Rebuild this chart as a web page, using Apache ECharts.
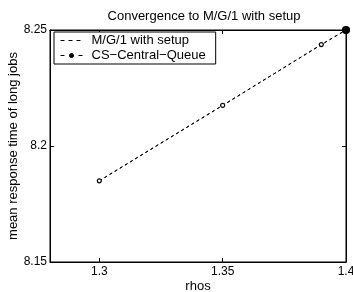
<!DOCTYPE html>
<html><head><meta charset="utf-8">
<script src="https://cdn.jsdelivr.net/npm/echarts@6/dist/echarts.min.js"></script>
<style>html,body{margin:0;padding:0;background:#fff}#c{width:353px;height:292px}</style>
</head><body><div id="c"></div>
<script>
var rhos = [1.3, 1.35, 1.39, 1.4];
var mg1Setup = [8.185, 8.2175, 8.2437, 8.25];
var csCentralQueue = [8.185, 8.2175, 8.2437, 8.25];
var xTicks = [1.3, 1.35, 1.4];
var yTicks = [8.15, 8.2, 8.25];

var font = 'Liberation Sans, Arial, Helvetica, sans-serif';
var fs = 13, tfs = 12;
var chart = echarts.init(document.getElementById('c'));
function pairs(v){ return rhos.map(function(x,i){ return [x, v[i]]; }); }
var csData = pairs(csCentralQueue).map(function(p,i){
  if (i === rhos.length-1) return {value:p, symbolSize:7, itemStyle:{color:'#000', borderColor:'#000'}};
  return {value:p};
});
chart.setOption({
  animation:false,
  title:{text:'Convergence to M/G/1 with setup', left:199, textAlign:'center', top:5,
    textStyle:{fontFamily:font, fontSize:fs, fontWeight:'normal', color:'#000'}},
  grid:{left:50, right:7, top:30, bottom:30, outerBoundsMode:'none', containLabel:false,
    show:true, borderColor:'#000', borderWidth:1, backgroundColor:'transparent'},
  legend:{orient:'vertical', left:54, top:32, itemWidth:22, itemHeight:5, itemGap:2,
    padding:[2,10,2,6], borderColor:'#000', borderWidth:1, backgroundColor:'#fff',
    textStyle:{fontFamily:font, fontSize:fs, color:'#000', padding:[0,0,0,4]},
    data:[{name:'M/G/1 with setup', itemStyle:{opacity:0}, lineStyle:{type:[4,4], color:'#000', width:1}},
          {name:'CS\u2212Central\u2212Queue', itemStyle:{color:'#000', borderColor:'#000', borderWidth:1},
           lineStyle:{type:[4,5], color:'#000', width:1}}]},
  xAxis:[{type:'value', min:1.28, max:1.4,
    name:'rhos', nameLocation:'middle', nameGap:18, nameMoveOverlap:false,
    nameTextStyle:{fontFamily:font, fontSize:fs, color:'#000'},
    axisLine:{lineStyle:{color:'#000', width:1}},
    axisTick:{inside:true, length:4, customValues:xTicks, lineStyle:{color:'#000'}},
    axisLabel:{customValues:xTicks, margin:4, fontFamily:font, fontSize:tfs, color:'#000',
      formatter:function(v){return String(+v.toFixed(2));}},
    splitLine:{show:false}},
   {type:'value', position:'top', min:1.28, max:1.4,
    axisLine:{lineStyle:{color:'#000', width:1}},
    axisTick:{inside:true, length:4, customValues:xTicks, lineStyle:{color:'#000'}},
    axisLabel:{show:false}, splitLine:{show:false}}],
  yAxis:[{type:'value', min:8.15, max:8.25, interval:0.05,
    name:'mean response time of long jobs', nameLocation:'middle', nameGap:30, nameMoveOverlap:false,
    nameTextStyle:{fontFamily:font, fontSize:fs, color:'#000'},
    axisLine:{lineStyle:{color:'#000', width:1}},
    axisTick:{inside:true, length:4, lineStyle:{color:'#000'}},
    axisLabel:{margin:3, fontFamily:font, fontSize:tfs, color:'#000',
      formatter:function(v){return String(+v.toFixed(2));}},
    splitLine:{show:false}},
   {type:'value', position:'right', min:8.15, max:8.25, interval:0.05,
    axisLine:{lineStyle:{color:'#000', width:1}},
    axisTick:{inside:true, length:4, lineStyle:{color:'#000'}},
    axisLabel:{show:false}, splitLine:{show:false}}],
  series:[
    {name:'M/G/1 with setup', type:'line', data:pairs(mg1Setup), showSymbol:false, symbol:'none',
      clip:false, lineStyle:{color:'#000', width:1, type:[3,3]}, itemStyle:{color:'#000'}},
    {name:'CS\u2212Central\u2212Queue', type:'line', data:csData, symbol:'circle', symbolSize:4,
      clip:false, lineStyle:{color:'#000', width:1, type:[3,3]},
      itemStyle:{color:'#fff', borderColor:'#000', borderWidth:1.2}}
  ]
});
</script></body></html>
